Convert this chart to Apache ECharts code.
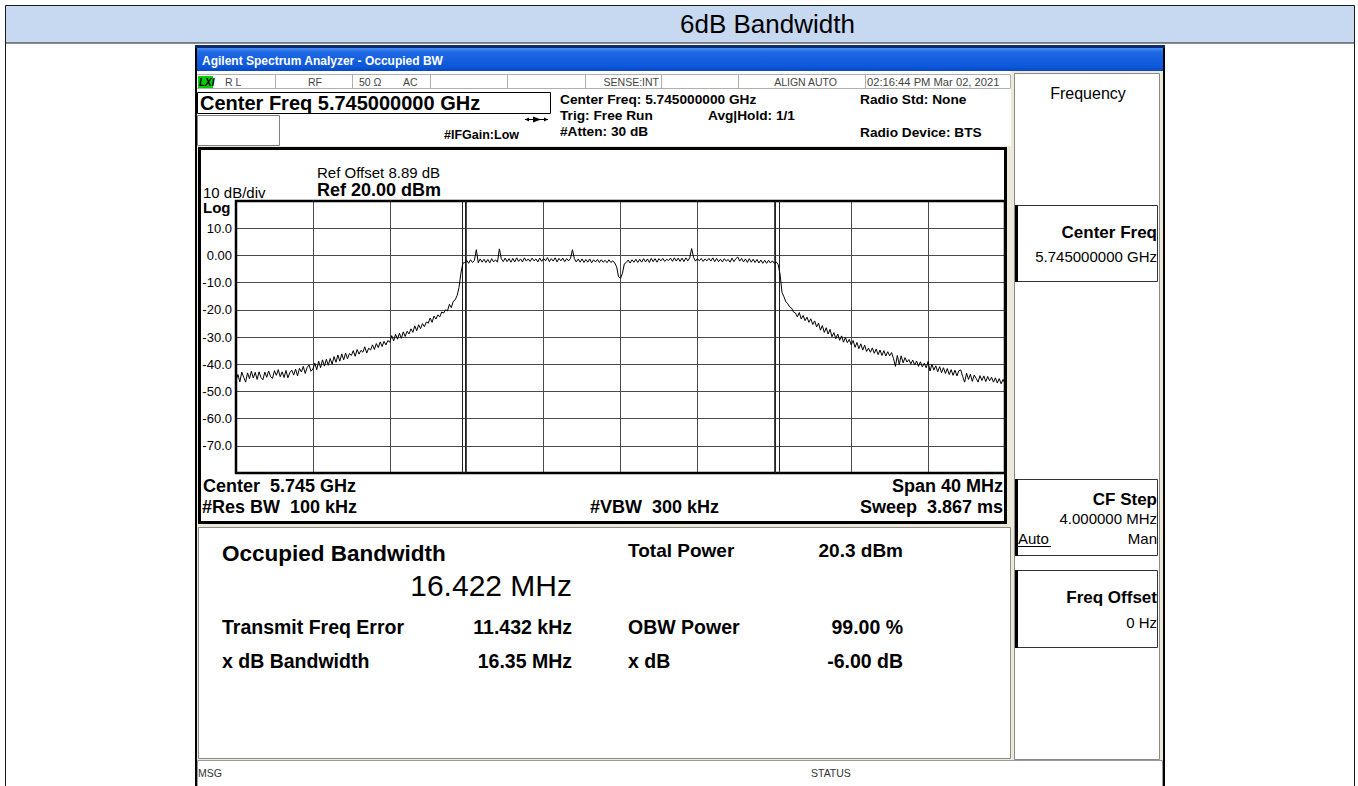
<!DOCTYPE html>
<html><head><meta charset="utf-8">
<script src="https://cdn.jsdelivr.net/npm/echarts@6/dist/echarts.min.js"></script>
<style>html,body{margin:0;padding:0;background:#fff;overflow:hidden}#c{width:1358px;height:786px}</style>
</head><body><div id="c"></div>
<script>
// ---- data ----
const pageTitle = '6dB Bandwidth';
const sweepStartMHz = -20;      // offset from centre frequency
const sweepStepMHz = 0.1;       // one trace point every 0.1 MHz (401 points over 40 MHz span)
const traceDbm = [
 -46.0,-43.8,-46.5,-42.9,-44.8,-46.6,-43.2,-45.3,-42.6,-45.1,
 -43.0,-45.6,-42.8,-44.9,-45.7,-42.9,-44.8,-42.5,-44.6,-45.2,
 -42.4,-44.1,-42.0,-44.6,-42.8,-44.9,-42.3,-45.0,-43.1,-42.2,
 -44.0,-41.8,-44.3,-41.5,-42.9,-40.8,-43.4,-41.2,-40.3,-42.6,
 -41.8,-39.6,-42.0,-38.9,-41.3,-38.4,-40.7,-38.2,-40.4,-37.9,
 -40.0,-37.2,-39.3,-36.6,-38.9,-36.2,-38.4,-35.9,-38.0,-36.1,
 -36.8,-35.0,-37.1,-34.6,-36.3,-34.9,-35.6,-33.6,-35.9,-34.1,
 -34.8,-32.9,-34.6,-32.4,-33.9,-31.8,-33.5,-31.6,-32.9,-31.3,
 -31.9,-29.5,-31.4,-29.0,-30.8,-28.6,-30.5,-28.1,-29.8,-27.9,
 -28.9,-27.0,-28.3,-25.9,-27.7,-25.5,-26.9,-25.1,-26.2,-24.5,
 -24.9,-23.0,-24.6,-22.3,-23.4,-21.9,-22.6,-20.8,-21.2,-20.0,
 -20.4,-18.0,-19.2,-16.9,-16.3,-14.8,-11.8,-6.5,-2.9,-2.6,
 -1.8,-2.9,-1.6,-2.6,-1.9,2.1,-2.7,-1.3,-2.5,-1.4,
 -2.6,-1.5,-2.7,-1.2,-2.4,-1.6,-2.5,2.4,-1.2,-2.3,
 -1.0,-2.3,-1.2,-2.5,-1.1,-2.4,-0.9,-2.2,-1.3,-2.4,
 -0.9,-2.1,-1.3,-2.2,-1.0,-2.0,-1.3,-2.4,-1.0,-2.2,
 -1.1,-2.0,-0.8,-2.3,-1.2,-2.1,-0.9,-2.4,-1.1,-2.0,
 -1.0,-2.3,-1.2,-2.0,-1.1,2.1,-1.2,-2.4,-1.3,-2.5,
 -1.3,-2.6,-1.5,-2.5,-1.3,-2.7,-1.6,-2.4,-1.5,-2.6,
 -1.6,-2.5,-1.8,-2.7,-1.6,-2.6,-2.0,-2.8,-4.2,-7.9,
 -8.4,-6.6,-3.1,-2.6,-1.7,-2.8,-1.6,-2.5,-1.4,-2.6,
 -1.4,-2.5,-1.2,-2.4,-1.3,-2.6,-1.1,-2.3,-1.2,-2.5,
 -1.2,-2.0,-1.1,-2.2,-1.4,-1.9,-1.0,-2.2,-0.9,-2.1,
 -1.0,-2.2,-1.0,-2.3,-0.9,-2.0,-0.9,2.5,-0.7,-2.1,
 -1.2,-2.0,-1.1,-2.2,-1.3,-2.0,-1.1,-2.1,-0.9,-2.3,
 -1.1,-2.3,-1.4,-2.4,-1.2,-2.1,-1.5,-2.5,-1.0,-2.3,
 -1.2,-0.6,-2.1,-1.1,-2.4,-1.3,-2.6,-1.2,-2.5,-1.4,
 -2.6,-1.5,-2.8,-1.7,-2.9,-1.8,-2.9,-1.8,-2.8,-2.0,
 -2.9,-2.4,-3.3,-6.9,-13.6,-15.2,-17.0,-17.8,-18.9,-19.4,
 -20.8,-21.2,-22.6,-21.0,-23.4,-22.1,-24.0,-22.7,-24.6,-23.3,
 -25.4,-24.1,-26.3,-24.9,-27.5,-25.8,-28.3,-26.6,-28.9,-27.2,
 -29.9,-28.4,-30.6,-28.9,-31.2,-29.6,-31.9,-30.2,-32.1,-30.9,
 -32.9,-31.3,-33.8,-32.0,-34.3,-32.5,-34.8,-33.0,-35.3,-34.1,
 -35.6,-34.0,-36.0,-34.4,-36.5,-34.8,-36.8,-35.0,-37.0,-35.4,
 -36.9,-35.7,-37.9,-40.8,-36.8,-40.1,-36.9,-39.5,-37.6,-39.2,
 -38.3,-39.9,-38.5,-40.3,-38.8,-40.8,-39.1,-41.0,-39.6,-41.3,
 -39.0,-42.5,-40.0,-42.2,-40.6,-42.8,-40.9,-43.1,-41.3,-43.4,
 -41.6,-43.8,-42.0,-44.1,-42.2,-44.3,-42.4,-42.1,-44.6,-46.6,
 -43.3,-45.6,-43.7,-46.3,-44.0,-45.2,-46.6,-44.2,-46.0,-44.3,
 -46.4,-44.5,-46.1,-44.8,-46.6,-45.0,-46.9,-45.3,-47.2,-45.6,
 -47.0
];
const markerEdgesMHz = [-8.25, -8.05, 8.05, 8.25];   // OBW / x dB edge lines
const yTickValues = [10, 0, -10, -20, -30, -40, -50, -60, -70];
const yTickLabels = ['10.0', '0.00', '-10.0', '-20.0', '-30.0', '-40.0', '-50.0', '-60.0', '-70.0'];
const spanMinMHz = -20, spanMaxMHz = 20, divMHz = 4;
const refMinDb = -80, refMaxDb = 20, divDb = 10;

// ---- build ----
const FONT = "'Liberation Sans', Arial, sans-serif";
const NB = '\u00a0';
const traceData = traceDbm.map((v, i) => [sweepStartMHz + i * sweepStepMHz, v]);
const yLabelMap = {};
yTickValues.forEach((v, i) => { yLabelMap[v] = yTickLabels[i]; });

function txt(x, y, text, size, o) {
  o = o || {};
  return { type: 'text', x: x, y: y, z: 30, silent: true,
    style: { text: text, font: (o.italic ? 'italic ' : '') + (o.bold ? 'bold ' : '') + size + 'px ' + FONT,
      fill: o.color || '#000', align: o.align || 'left', verticalAlign: 'middle' } };
}
function rect(x, y, w, h, fill, stroke, lw, z) {
  return { type: 'rect', silent: true, z: (z === undefined ? -20 : z), shape: { x: x, y: y, width: w, height: h },
    style: { fill: fill || 'none', stroke: stroke || 'none', lineWidth: lw || 0 } };
}
function ln(x1, y1, x2, y2, stroke, lw, z) {
  return { type: 'line', silent: true, z: (z === undefined ? -15 : z), shape: { x1: x1, y1: y1, x2: x2, y2: y2 },
    style: { stroke: stroke, lineWidth: lw || 1 } };
}

const chart = echarts.init(document.getElementById('c'), null, { renderer: 'svg' });

const blueBar = new echarts.graphic.LinearGradient(0, 0, 0, 1, [
  { offset: 0, color: '#4a8ef5' }, { offset: 0.18, color: '#1f68e4' },
  { offset: 0.8, color: '#0c58da' }, { offset: 1, color: '#0a48be' }]);

const g = [];
// page frame
g.push(rect(0, 0, 1358, 786, '#ffffff', null, 0, -40));
g.push(rect(5.5, 5.5, 1349, 37.5, '#c6d9f1', '#1a1a1a', 1, -30));
g.push(ln(5.5, 43, 5.5, 786, '#1a1a1a', 1, -30));
g.push(ln(1354.5, 43, 1354.5, 786, '#1a1a1a', 1, -30));
g.push(txt(680, 24, pageTitle, 26));

// instrument window
g.push(rect(195, 45, 970, 741, '#ece9d8', null, 0, -30));
g.push(rect(195, 45, 2, 741, '#000', null, 0, -14));
g.push(rect(1163, 45, 2, 741, '#000', null, 0, -14));
g.push(rect(195, 45, 970, 3, '#0a2a70', null, 0, -14));
g.push(rect(197, 48, 966, 23, blueBar, null, 0, -14));
g.push(txt(202, 61, 'Agilent Spectrum Analyzer - Occupied BW', 12, { bold: true, color: '#fff' }));

// header area
g.push(rect(197, 71, 814, 75, '#ffffff', null, 0, -25));
g.push(ln(197, 74.5, 1010, 74.5, '#b0b0b0', 1));
g.push(ln(197, 88.5, 1010, 88.5, '#b0b0b0', 1));
[275, 352, 430, 507, 585, 661, 738, 865, 1010].forEach(x => g.push(ln(x + 0.5, 74.5, x + 0.5, 88.5, '#b0b0b0', 1)));
g.push(rect(198, 76, 15, 12, '#00cc00', null, 0, -10));
g.push(txt(199, 82.5, 'LXI', 10, { bold: true, italic: true }));
const sGray = { color: '#444' };
g.push(txt(225, 82, 'R L', 10.5, sGray));
g.push(txt(308, 82, 'RF', 10.5, sGray));
g.push(txt(359, 82, '50 Ω', 10.5, sGray));
g.push(txt(403, 82, 'AC', 10.5, sGray));
g.push(txt(659, 82, 'SENSE:INT', 10.5, Object.assign({ align: 'right' }, sGray)));
g.push(txt(837, 82, 'ALIGN AUTO', 10.5, Object.assign({ align: 'right' }, sGray)));
g.push(txt(867, 82, '02:16:44 PM Mar 02, 2021', 11.2, sGray));

g.push(rect(197.5, 92.5, 353, 21, '#fff', '#000', 1, -10));
g.push(txt(200, 103, 'Center Freq 5.745000000 GHz', 20, { bold: true }));
g.push(rect(197.5, 115.5, 82, 30, '#fff', '#808080', 1, -10));
g.push(ln(525, 119.5, 548, 119.5, '#000', 1, -5));
g.push({ type: 'polygon', silent: true, z: -5, shape: { points: [[533, 116.5], [541, 119.5], [533, 122.5]] }, style: { fill: '#000' } });
g.push({ type: 'polygon', silent: true, z: -5, shape: { points: [[525, 119.5], [529, 117.5], [529, 121.5]] }, style: { fill: '#000' } });
g.push({ type: 'polygon', silent: true, z: -5, shape: { points: [[548, 119.5], [544, 117.5], [544, 121.5]] }, style: { fill: '#000' } });
g.push(txt(444, 135, '#IFGain:Low', 12.5, { bold: true }));
g.push(txt(560, 99, 'Center Freq: 5.745000000 GHz', 13.7, { bold: true }));
g.push(txt(560, 115, 'Trig: Free Run', 13.7, { bold: true }));
g.push(txt(560, 131, '#Atten: 30 dB', 13.7, { bold: true }));
g.push(txt(708, 115, 'Avg|Hold: 1/1', 13.7, { bold: true }));
g.push(txt(860, 99, 'Radio Std: None', 13.7, { bold: true }));
g.push(txt(860, 132, 'Radio Device: BTS', 13.7, { bold: true }));

// plot frame
g.push(rect(199.5, 148.5, 806, 374, '#ffffff', '#000', 3, -12));
g.push(txt(317, 172, 'Ref Offset 8.89 dB', 15));
g.push(txt(317, 190, 'Ref 20.00 dBm', 18, { bold: true }));
g.push(txt(203, 192, '10 dB/div', 15));
g.push(txt(203, 207, 'Log', 15, { bold: true }));
g.push(txt(203, 486, 'Center' + NB + NB + '5.745 GHz', 18, { bold: true }));
g.push(txt(202, 507, '#Res BW' + NB + NB + '100 kHz', 18, { bold: true }));
g.push(txt(590, 507, '#VBW' + NB + NB + '300 kHz', 18, { bold: true }));
g.push(txt(1003, 486, 'Span 40 MHz', 18, { bold: true, align: 'right' }));
g.push(txt(1003, 507, 'Sweep' + NB + NB + '3.867 ms', 18, { bold: true, align: 'right' }));

// results panel
g.push(rect(198.5, 527.5, 812, 231, '#ffffff', '#8a8a8a', 1, -12));
g.push(txt(222, 553, 'Occupied Bandwidth', 22.5, { bold: true }));
g.push(txt(572, 585, '16.422 MHz', 30, { align: 'right' }));
g.push(txt(628, 550, 'Total Power', 19, { bold: true }));
g.push(txt(903, 550, '20.3 dBm', 19, { bold: true, align: 'right' }));
g.push(txt(222, 627, 'Transmit Freq Error', 19.5, { bold: true }));
g.push(txt(572, 627, '11.432 kHz', 19.5, { bold: true, align: 'right' }));
g.push(txt(628, 627, 'OBW Power', 19.5, { bold: true }));
g.push(txt(903, 627, '99.00 %', 19.5, { bold: true, align: 'right' }));
g.push(txt(222, 661, 'x dB Bandwidth', 19.5, { bold: true }));
g.push(txt(572, 661, '16.35 MHz', 19.5, { bold: true, align: 'right' }));
g.push(txt(628, 661, 'x dB', 19.5, { bold: true }));
g.push(txt(903, 661, '-6.00 dB', 19.5, { bold: true, align: 'right' }));

// softkey panel
g.push(rect(1014.5, 73.5, 145, 686, '#ffffff', '#8a8a8a', 1, -12));
g.push(txt(1088, 93, 'Frequency', 16, { align: 'center' }));
[[205, 76], [479, 76], [570, 77]].forEach(b => {
  g.push(rect(1016.5, b[0] + 0.5, 141, b[1], '#ffffff', '#333', 1, -10));
  g.push(rect(1015, b[0], 3, b[1] + 1, '#000', null, 0, -9));
});
g.push(txt(1157, 232, 'Center Freq', 17, { bold: true, align: 'right' }));
g.push(txt(1157, 256, '5.745000000 GHz', 15, { align: 'right' }));
g.push(txt(1157, 499, 'CF Step', 17, { bold: true, align: 'right' }));
g.push(txt(1157, 518, '4.000000 MHz', 15, { align: 'right' }));
g.push(txt(1018, 538, 'Auto', 15));
g.push(ln(1018, 546.5, 1051, 546.5, '#000', 1, -5));
g.push(txt(1157, 538, 'Man', 15, { align: 'right' }));
g.push(txt(1157, 597, 'Freq Offset', 17, { bold: true, align: 'right' }));
g.push(txt(1157, 622, '0 Hz', 15, { align: 'right' }));

// message bar
g.push(rect(197.5, 760.5, 965, 27, '#ffffff', '#9a9a9a', 1, -12));
g.push(ln(228.5, 760.5, 228.5, 786, '#9a9a9a', 1));
g.push(ln(808.5, 760.5, 808.5, 786, '#9a9a9a', 1));
g.push(ln(857.5, 760.5, 857.5, 786, '#9a9a9a', 1));
g.push(txt(198, 773, 'MSG', 10.5, { color: '#333' }));
g.push(txt(811, 773, 'STATUS', 10.5, { color: '#333' }));

chart.setOption({
  animation: false,
  backgroundColor: '#ffffff',
  graphic: { elements: g },
  grid: { left: 236, top: 201, width: 769, height: 272, show: true, backgroundColor: 'transparent',
          borderColor: '#000', borderWidth: 2.5, z: 1 },
  xAxis: { type: 'value', min: spanMinMHz, max: spanMaxMHz, interval: divMHz,
    axisLabel: { show: false }, axisLine: { show: false }, axisTick: { show: false },
    splitLine: { show: true, lineStyle: { color: '#4a4a4a', width: 1 } } },
  yAxis: { type: 'value', min: refMinDb, max: refMaxDb, interval: divDb,
    axisLine: { show: false }, axisTick: { show: false },
    axisLabel: { margin: 4, fontSize: 13, color: '#000', fontFamily: FONT,
      formatter: v => (yLabelMap[v] !== undefined ? yLabelMap[v] : '') },
    splitLine: { show: true, lineStyle: { color: '#4a4a4a', width: 1 } } },
  series: [{
    type: 'line', data: traceData, showSymbol: false, symbol: 'none', silent: true, z: 5,
    lineStyle: { color: '#000', width: 1 },
    markLine: { silent: true, symbol: ['none', 'none'], label: { show: false },
      lineStyle: { color: '#222', width: 1, type: 'solid' },
      data: markerEdgesMHz.map(f => ({ xAxis: f })) }
  }]
});
</script></body></html>
